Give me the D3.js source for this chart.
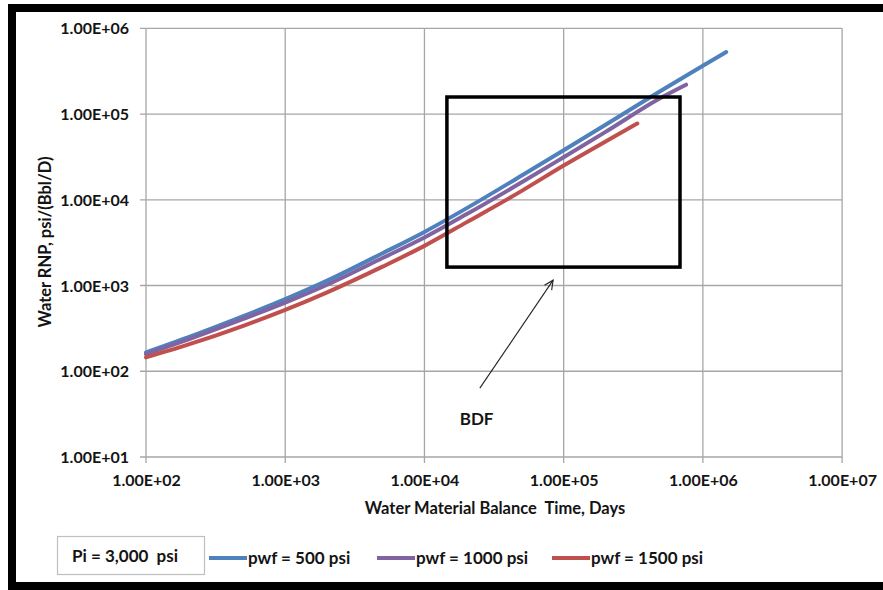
<!DOCTYPE html>
<html>
<head>
<meta charset="utf-8">
<script src="https://cdn.jsdelivr.net/npm/d3@7"></script>
<style>
  html, body { margin: 0; padding: 0; background: #fff; }
  svg { display: block; }
  text { font-family: Lato, "Open Sans", sans-serif; font-weight: bold; fill: #141414; }
</style>
</head>
<body>
<svg id="chart" width="883" height="590"></svg>
<script>
// Water rate-normalized pressure vs water material balance time
const xTicks = [1e2, 1e3, 1e4, 1e5, 1e6, 1e7];
const yTicks = [1e1, 1e2, 1e3, 1e4, 1e5, 1e6];
const tickFormat = v => v.toExponential(2).toUpperCase().replace(/E([+-])(\d)$/, "E$10$2");

const seriesNames = ["pwf = 500 psi", "pwf = 1000 psi", "pwf = 1500 psi"];
const seriesColors = ["#4F81BD", "#8064A2", "#C0504D"];

// material balance time, days
const mbt500  = [100, 200, 500, 1000, 2000, 5000, 1e4, 2e4, 5e4, 1e5, 2e5, 5e5, 1e6, 1.47e6];
const rnp500  = [166, 248, 439, 693, 1140, 2380, 4220, 7940, 19200, 37800, 75000, 187000, 365000, 528000];
const mbt1000 = [100, 200, 500, 1000, 2000, 5000, 1e4, 2e4, 5e4, 1e5, 2e5, 5e5, 7.57e5];
const rnp1000 = [158, 234, 407, 631, 1020, 2090, 3630, 6760, 16000, 31400, 62000, 155000, 220000];
const mbt1500 = [100, 200, 500, 1000, 2000, 5000, 1e4, 2e4, 5e4, 1e5, 2e5, 3.38e5];
const rnp1500 = [145, 204, 339, 519, 832, 1660, 2900, 5450, 12700, 25100, 47900, 77600];

const seriesT = [mbt500, mbt1000, mbt1500];
const seriesV = [rnp500, rnp1000, rnp1500];

// boundary-dominated flow region annotation (data units)
const bdfBox = { t0: 1.45e4, t1: 6.85e5, v0: 1640, v1: 1.58e5 };
const bdfArrow = { tFrom: 2.5e4, vFrom: 63.5, tTo: 8.4e4, vTo: 1155 };
const bdfLabel = { t: 2.37e4, v: 23.5, text: "BDF" };

const svg = d3.select("#chart");

// outer frame (its right edge runs past the page)
svg.append("rect")
  .attr("x", 12).attr("y", 8).attr("width", 890).attr("height", 578)
  .attr("fill", "#fff").attr("stroke", "#000").attr("stroke-width", 8);

const plot = { left: 146, right: 842.1, top: 28.3, bottom: 457 };

const x = d3.scaleLog().domain([1e2, 1e7]).range([plot.left, plot.right]);
const y = d3.scaleLog().domain([1e1, 1e6]).range([plot.bottom, plot.top]);

const gridColor = "#A6A6A6";

// gridlines
svg.append("g").selectAll("line").data(xTicks).join("line")
  .attr("x1", d => x(d)).attr("x2", d => x(d))
  .attr("y1", plot.top).attr("y2", plot.bottom + 6)
  .attr("stroke", gridColor).attr("stroke-width", 1.3);
svg.append("g").selectAll("line").data(yTicks).join("line")
  .attr("x1", plot.left - 6).attr("x2", plot.right)
  .attr("y1", d => y(d)).attr("y2", d => y(d))
  .attr("stroke", gridColor).attr("stroke-width", 1.3);

// axes labels
const xAxis = d3.axisBottom(x).tickValues(xTicks).tickFormat(tickFormat).tickSize(0).tickPadding(0);
const gx = svg.append("g").attr("transform", `translate(0,${plot.bottom})`).call(xAxis);
gx.select(".domain").remove();
gx.selectAll("text").attr("dy", null).attr("y", 29).attr("font-size", 16)
  .attr("font-family", null).attr("fill", "#141414");

const yAxis = d3.axisLeft(y).tickValues(yTicks).tickFormat(tickFormat).tickSize(0).tickPadding(0);
const gy = svg.append("g").attr("transform", `translate(${plot.left},0)`).call(yAxis);
gy.select(".domain").remove();
gy.selectAll("text").attr("x", -17).attr("dy", "0.35em").attr("font-size", 16)
  .attr("font-family", null).attr("fill", "#141414");

// axis titles
svg.append("text")
  .attr("x", 495).attr("y", 514).attr("text-anchor", "middle").attr("font-size", 16.5)
  .style("white-space", "pre")
  .text("Water Material Balance  Time, Days");
svg.append("text")
  .attr("transform", "translate(51,242) rotate(-90)")
  .attr("text-anchor", "middle").attr("font-size", 16.5)
  .text("Water RNP, psi/(Bbl/D)");

// curves
const line = d3.line()
  .x(d => x(d[0])).y(d => y(d[1]))
  .curve(d3.curveMonotoneX);

seriesT.forEach((ts, i) => {
  const pts = ts.map((t, j) => [t, seriesV[i][j]]);
  svg.append("path")
    .datum(pts)
    .attr("d", line)
    .attr("fill", "none")
    .attr("stroke", seriesColors[i])
    .attr("stroke-width", 4)
    .attr("stroke-linecap", "round");
});

// BDF box
svg.append("rect")
  .attr("x", x(bdfBox.t0)).attr("y", y(bdfBox.v1))
  .attr("width", x(bdfBox.t1) - x(bdfBox.t0))
  .attr("height", y(bdfBox.v0) - y(bdfBox.v1))
  .attr("fill", "none").attr("stroke", "#000").attr("stroke-width", 3.5);

// BDF arrow
const ax0 = x(bdfArrow.tFrom), ay0 = y(bdfArrow.vFrom);
const ax1 = x(bdfArrow.tTo), ay1 = y(bdfArrow.vTo);
svg.append("line")
  .attr("x1", ax0).attr("y1", ay0).attr("x2", ax1).attr("y2", ay1)
  .attr("stroke", "#222").attr("stroke-width", 1.1);
const ang = Math.atan2(ay1 - ay0, ax1 - ax0);
const headLen = 10, headSpread = 0.45;
const head = [
  [ax1 - headLen * Math.cos(ang - headSpread), ay1 - headLen * Math.sin(ang - headSpread)],
  [ax1, ay1],
  [ax1 - headLen * Math.cos(ang + headSpread), ay1 - headLen * Math.sin(ang + headSpread)]
];
svg.append("path")
  .attr("d", d3.line()(head))
  .attr("fill", "none").attr("stroke", "#222").attr("stroke-width", 1.1);

svg.append("text")
  .attr("x", x(bdfLabel.t)).attr("y", y(bdfLabel.v))
  .attr("text-anchor", "middle").attr("font-size", 17)
  .text(bdfLabel.text);

// legend: initial pressure box
svg.append("rect")
  .attr("x", 57.5).attr("y", 536.5).attr("width", 147).attr("height", 38)
  .attr("fill", "#fff").attr("stroke", "#BFBFBF").attr("stroke-width", 1.2);
svg.append("text")
  .attr("x", 72).attr("y", 562).attr("font-size", 17)
  .style("white-space", "pre")
  .text("Pi = 3,000  psi");

// legend: series
const legendX = [209, 377, 552];
const legend = svg.append("g");
seriesNames.forEach((name, i) => {
  legend.append("line")
    .attr("x1", legendX[i]).attr("x2", legendX[i] + 38)
    .attr("y1", 558).attr("y2", 558)
    .attr("stroke", seriesColors[i]).attr("stroke-width", 4);
  legend.append("text")
    .attr("x", legendX[i] + 39).attr("y", 564)
    .attr("font-size", 17)
    .text(name);
});
</script>
</body>
</html>
